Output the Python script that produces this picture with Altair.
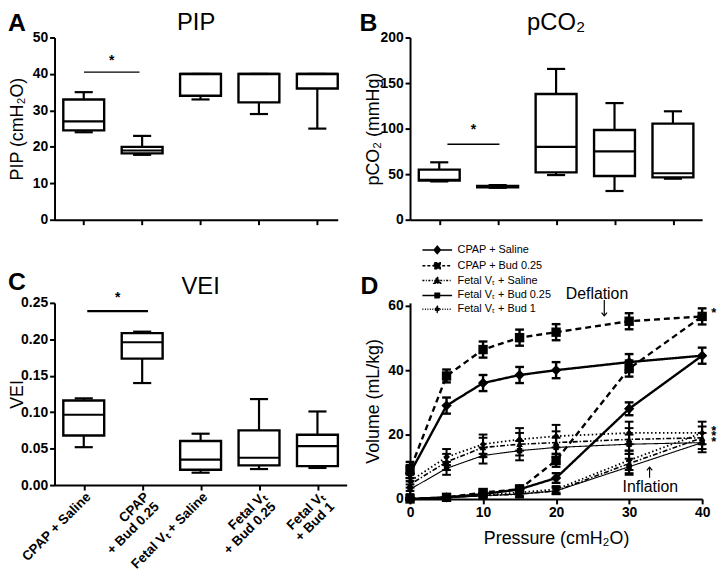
import altair as alt
import pandas as pd

FONT = "Liberation Sans"

# ---------------- box-plot categories ----------------
group_idx = [1, 2, 3, 4, 5]
group_line1 = ["CPAP + Saline", "CPAP", "Fetal Vₜ + Saline", "Fetal Vₜ", "Fetal Vₜ"]
group_line2 = ["", "+ Bud 0.25", "", "+ Bud 0.25", "+ Bud 1"]

# PIP (cmH2O)
pip_min = [24, 17.8, 33, 29, 25]
pip_q1 = [24.5, 18.2, 34, 32.2, 36]
pip_med = [27, 19, 40, 40, 40]
pip_q3 = [33, 20, 40, 40, 40]
pip_max = [35, 23, 40, 40, 40]

# pCO2 (mmHg)
pco2_min = [42, 35, 49, 31.5, 45]
pco2_q1 = [43, 35.5, 52, 48, 46.5]
pco2_med = [43.8, 36, 80, 75, 51]
pco2_q3 = [55, 37, 138, 98.5, 105.5]
pco2_max = [63, 38, 165.5, 128, 119]

# VEI
vei_min = [0.052, 0.140, 0.017, 0.022, 0.0235]
vei_q1 = [0.068, 0.1735, 0.021, 0.027, 0.026]
vei_med = [0.0965, 0.196, 0.035, 0.0375, 0.0535]
vei_q3 = [0.116, 0.2085, 0.0605, 0.075, 0.069]
vei_max = [0.119, 0.2105, 0.0705, 0.118, 0.101]

# significance bars: [x_start, x_end, y_line, y_star]
pip_sig = [1.005, 1.955, 40.5, 42.5]
pco2_sig = [1.14, 2.03, 82.7, 93.6]
vei_sig = [1.06, 2.1, 0.2387, 0.2515]

# ---------------- P-V curves (panel D) ----------------
d_series = ["CPAP + Saline", "CPAP + Bud 0.25", "Fetal Vₜ + Saline",
            "Fetal Vₜ + Bud 0.25", "Fetal Vₜ + Bud 1"]
pressure_infl = [0, 5, 10, 15, 20, 30, 40]
pressure_defl = [40, 30, 20, 15, 10, 5, 0]

cpap_sal_infl = [0, 0.5, 1.5, 3, 6.5, 28, 44.5]
cpap_sal_defl = [44.5, 42.5, 40, 38.5, 36, 29, 8]
cpap_bud_infl = [0, 0.5, 2, 3, 12, 40.5, 56.7]
cpap_bud_defl = [56.7, 55.2, 51.8, 50.1, 46.4, 38.2, 9]
fsal_infl = [0, 0.5, 1, 1.5, 2.5, 11, 19]
fsal_defl = [19, 18.5, 17.5, 17, 16, 11.5, 4.5]
fb025_infl = [0, 0.3, 1, 1.5, 2.5, 10, 17.5]
fb025_defl = [17.5, 17, 16, 15, 13.5, 9.5, 3]
fb1_infl = [0, 0.5, 1.2, 2, 3, 12, 20.5]
fb1_defl = [20.5, 20.5, 19.5, 18.5, 17, 13, 5.5]

cpap_sal_infl_err = [0.3, 0.5, 0.8, 1, 1.5, 2, 2.5]
cpap_sal_defl_err = [2.5, 2.5, 2.5, 2.5, 2.5, 2.5, 2.5]
cpap_bud_infl_err = [0.3, 0.5, 1, 1.2, 2, 2.5, 2.5]
cpap_bud_defl_err = [2.5, 2.5, 2.5, 2.5, 2.5, 2, 2.5]
fsal_infl_err = [0.3, 0.5, 0.8, 1, 1, 3, 3.5]
fsal_defl_err = [3.5, 3.5, 3.5, 3.5, 3, 2.5, 2]
fb025_infl_err = [0.3, 0.5, 0.8, 1, 1, 2.5, 3]
fb025_defl_err = [3, 3, 3, 3, 2.5, 2, 1.5]
fb1_infl_err = [0.3, 0.5, 0.8, 1, 1, 3, 3.5]
fb1_defl_err = [3.5, 3.5, 3.5, 3.5, 3, 2.5, 2]

d_infl = [cpap_sal_infl, cpap_bud_infl, fsal_infl, fb025_infl, fb1_infl]
d_defl = [cpap_sal_defl, cpap_bud_defl, fsal_defl, fb025_defl, fb1_defl]
d_infl_err = [cpap_sal_infl_err, cpap_bud_infl_err, fsal_infl_err, fb025_infl_err, fb1_infl_err]
d_defl_err = [cpap_sal_defl_err, cpap_bud_defl_err, fsal_defl_err, fb025_defl_err, fb1_defl_err]

# annotations in panel D
ann_text = ["Deflation", "Inflation"]
ann_p = [25.6, 32.9]
ann_v = [62.2, 2.25]
arrow_p = [26.6, 32.8]
arrow_tail = [61.8, 6.6]
arrow_tip = [56.9, 9.9]
star_p = [41.6, 41.6, 41.6, 41.6]
star_v = [56.4, 20.0, 18.3, 16.6]

# ---------------- styles ----------------
line_dash = [[1, 0], [6, 4], [5, 2, 1.5, 2], [1, 0], [1.5, 2.5]]
line_width = [2.4, 2.4, 1.6, 1.1, 1.8]
pt_shape = ["diamond", "square", "triangle-up", "square", "diamond"]
pt_size = [110, 90, 45, 30, 45]
err_width = [2.4, 2.4, 2.0, 2.0, 2.0]
legend_paths = [
    "M-2,0H2M0,-0.5L0.42,0L0,0.5L-0.42,0Z",
    "M-2,0H2M-0.4,-0.4H0.4V0.4H-0.4Z",
    "M-2,0H2M0,-0.5L0.45,0.35H-0.45Z",
    "M-2,0H2M-0.3,-0.3H0.3V0.3H-0.3Z",
    "M-2,0H2M0,-0.4L0.34,0L0,0.4L-0.34,0Z",
]
legend_dash = [[1, 0], [3, 2], [2, 1.5, 1, 1.5], [1, 0], [1, 1.5]]
arrow_heads = ["M-1,-1.2L0,0L1,-1.2", "M-1,1.2L0,0L1,1.2"]


def head_layers(letter, lx, ly, title, width, ty):
    hdf = pd.DataFrame({"t": [letter], "h": [title]})
    let = alt.Chart(hdf).mark_text(
        align="left", baseline="top", fontSize=25, fontWeight="bold", font=FONT, color="black"
    ).encode(x=alt.value(lx), y=alt.value(ly), text="t:N")
    layers = [let]
    if title:
        ttl = alt.Chart(hdf).mark_text(
            align="center", baseline="top", fontSize=24, font=FONT, color="black"
        ).encode(x=alt.value(width / 2), y=alt.value(ty), text="h:N")
        layers.append(ttl)
    return layers


def box_panel(mins, q1s, meds, q3s, maxs, width, xmax, ydom, yticks, yfmt, ytitle,
              title, letter, sig, show_labels, sig_w, lx, ly, ty):
    df = pd.DataFrame({"idx": group_idx, "lo": mins, "q1": q1s, "med": meds,
                       "q3": q3s, "hi": maxs, "l1": group_line1, "l2": group_line2})
    base = alt.Chart(df).transform_calculate(
        bl="datum.idx - 0.35", br="datum.idx + 0.35",
        cl="datum.idx - 0.155", cr="datum.idx + 0.155")
    xsc = alt.Scale(domain=[0.5, xmax], nice=False, zero=False)
    ysc = alt.Scale(domain=ydom, nice=False, zero=True)
    xaxis = alt.Axis(values=group_idx, labels=False, title=None)
    yaxis = alt.Axis(values=yticks, format=yfmt, title=ytitle, titleX=-28)

    def X(f):
        return alt.X(f, type="quantitative", scale=xsc, axis=xaxis)

    def Y(f):
        return alt.Y(f, type="quantitative", scale=ysc, axis=yaxis)

    whisk_lo = base.mark_rule(color="black", strokeWidth=2.2).encode(x=X("idx"), y=Y("lo"), y2="q1")
    whisk_hi = base.mark_rule(color="black", strokeWidth=2.2).encode(x=X("idx"), y=Y("q3"), y2="hi")
    box = base.mark_rect(fill="white", stroke="black", strokeWidth=2.4).encode(
        x=X("bl"), x2="br", y=Y("q1"), y2="q3")
    med = base.mark_rule(color="black", strokeWidth=2.2).encode(x=X("bl"), x2="br", y=Y("med"))
    cap_lo = base.mark_rule(color="black", strokeWidth=2.2).encode(x=X("cl"), x2="cr", y=Y("lo"))
    cap_hi = base.mark_rule(color="black", strokeWidth=2.2).encode(x=X("cl"), x2="cr", y=Y("hi"))
    sdf = pd.DataFrame({"x1": [sig[0]], "x2": [sig[1]], "y": [sig[2]],
                        "sx": [(sig[0] + sig[1]) / 2], "sy": [sig[3]], "t": ["*"]})
    sline = alt.Chart(sdf).mark_rule(color="black", strokeWidth=sig_w).encode(
        x=X("x1"), x2="x2", y=Y("y"))
    star = alt.Chart(sdf).mark_text(fontSize=14, fontWeight="bold", font=FONT,
                                    baseline="alphabetic", color="black").encode(
        x=X("sx"), y=Y("sy"), text="t:N")
    layers = [whisk_lo, whisk_hi, box, med, cap_lo, cap_hi, sline, star]
    if show_labels:
        for field, off in (("l1", 0), ("l2", 14)):
            layers.append(alt.Chart(df).mark_text(
                angle=315, align="right", baseline="top", dy=off,
                fontSize=13.5, fontWeight="bold", font=FONT, color="black"
            ).encode(x=X("idx"), y=alt.value(189), text=f"{field}:N"))
    layers += head_layers(letter, lx, ly, title, width, ty)
    return alt.layer(*layers).properties(width=width, height=184)


chart_a = box_panel(pip_min, pip_q1, pip_med, pip_q3, pip_max, 286, 5.35, [0, 50],
                    [0, 10, 20, 30, 40, 50], "d", "PIP (cmH₂O)", "PIP", "A", pip_sig,
                    False, 1.5, -47, -27, -27)
chart_b = box_panel(pco2_min, pco2_q1, pco2_med, pco2_q3, pco2_max, 295, 5.5, [0, 200],
                    [0, 50, 100, 150, 200], "d", "pCO₂ (mmHg)", "pCO₂", "B", pco2_sig,
                    False, 1.5, -51, -27, -27)
chart_c = box_panel(vei_min, vei_q1, vei_med, vei_q3, vei_max, 295, 5.5, [0, 0.25],
                    [0, 0.05, 0.10, 0.15, 0.20, 0.25], ".2f", "VEI", "VEI", "C", vei_sig,
                    True, 2.2, -47, -33, -28)

# ---------------- panel D ----------------
xsc_d = alt.Scale(domain=[0, 40], nice=False, zero=True)
ysc_d = alt.Scale(domain=[0, 60.9], nice=False, zero=True)
xax_d = alt.Axis(values=[0, 10, 20, 30, 40], title="Pressure (cmH₂O)", titlePadding=10,
                 labelFlush=False)
yax_d = alt.Axis(values=[0, 20, 40, 60], title="Volume (mL/kg)", titleX=-28)


def XD(f):
    return alt.X(f, type="quantitative", scale=xsc_d, axis=xax_d)


def YD(f):
    return alt.Y(f, type="quantitative", scale=ysc_d, axis=yax_d)


d_layers = []
for i, name in enumerate(d_series):
    rows = []
    seq = 0
    for p, v, e in zip(pressure_infl, d_infl[i], d_infl_err[i]):
        rows.append({"p": p, "v": v, "e": e, "seq": seq})
        seq += 1
    for p, v, e in zip(pressure_defl[1:], d_defl[i][1:], d_defl_err[i][1:]):
        rows.append({"p": p, "v": v, "e": e, "seq": seq})
        seq += 1
    sdf = pd.DataFrame(rows)
    base = alt.Chart(sdf).transform_calculate(
        lo="datum.v - datum.e", hi="datum.v + datum.e",
        cl="datum.p - 0.6", cr="datum.p + 0.6")
    d_layers.append(base.mark_line(color="black", strokeWidth=line_width[i],
                                   strokeDash=line_dash[i]).encode(
        x=XD("p"), y=YD("v"), order="seq:Q"))
    d_layers.append(base.mark_rule(color="black", strokeWidth=err_width[i]).encode(
        x=XD("p"), y=YD("lo"), y2="hi"))
    d_layers.append(base.mark_rule(color="black", strokeWidth=err_width[i]).encode(
        x=XD("cl"), x2="cr", y=YD("lo")))
    d_layers.append(base.mark_rule(color="black", strokeWidth=err_width[i]).encode(
        x=XD("cl"), x2="cr", y=YD("hi")))
    d_layers.append(base.mark_point(shape=pt_shape[i], filled=True, size=pt_size[i],
                                    color="black", opacity=1).encode(x=XD("p"), y=YD("v")))

leg = alt.Legend(orient="none", legendX=19, legendY=-62, title=None, symbolSize=225,
                 labelFont=FONT, labelFontSize=11, labelFontWeight="normal",
                 labelColor="black", labelOffset=12, rowPadding=-1, padding=0)
leg_df = pd.DataFrame({"series": d_series, "p": [0] * 5, "v": [-50] * 5})
legend_layer = alt.Chart(leg_df).mark_point(
    filled=True, fill="black", stroke="black", strokeWidth=1.3, clip=True, opacity=1
).encode(
    x=XD("p"), y=YD("v"),
    shape=alt.Shape("series:N", scale=alt.Scale(domain=d_series, range=legend_paths), legend=leg),
    strokeDash=alt.StrokeDash("series:N", scale=alt.Scale(domain=d_series, range=legend_dash), legend=leg),
)

ann_df = pd.DataFrame({"p": ann_p, "v": ann_v, "t": ann_text})
ann = alt.Chart(ann_df).mark_text(fontSize=16, font=FONT, baseline="alphabetic",
                                  color="black").encode(x=XD("p"), y=YD("v"), text="t:N")
arr_df = pd.DataFrame({"p": arrow_p, "v0": arrow_tail, "v1": arrow_tip})
arr_line = alt.Chart(arr_df).mark_rule(color="black", strokeWidth=1.2).encode(
    x=XD("p"), y=YD("v0"), y2="v1")
arr_heads = [
    alt.Chart(arr_df.iloc[[k]]).mark_point(shape=arrow_heads[k], filled=False, size=30,
                                           color="black", strokeWidth=1.2, opacity=1).encode(
        x=XD("p"), y=YD("v1"))
    for k in range(2)
]
star_df = pd.DataFrame({"p": star_p, "v": star_v, "t": ["*"] * 4})
stars = alt.Chart(star_df).mark_text(fontSize=13, fontWeight="bold", font=FONT,
                                     baseline="alphabetic", color="black").encode(
    x=XD("p"), y=YD("v"), text="t:N")

chart_d = alt.layer(*d_layers, legend_layer, ann, arr_line, *arr_heads, stars,
                    *head_layers("D", -50, -29, "", 295, 0)).properties(width=295, height=198)

chart = alt.concat(
    chart_a, chart_b, chart_c, chart_d, columns=2,
    spacing={"row": 84, "column": 64}, bounds="flush", align="each", padding=0,
).resolve_scale(shape="independent", strokeDash="independent").resolve_legend(
    shape="independent", strokeDash="independent"
).configure_view(stroke=None).configure_axis(
    domainColor="black", domainWidth=2, tickColor="black", tickWidth=2, tickSize=5,
    labelFont=FONT, labelFontSize=14, labelFontWeight="bold", labelColor="black",
    titleFont=FONT, titleFontSize=18, titleFontWeight="normal", titleColor="black",
    grid=False, labelPadding=2, labelFlush=False, labelOverlap=False,
)

chart.save("out.html", embed_options={"renderer": "svg", "actions": False})
